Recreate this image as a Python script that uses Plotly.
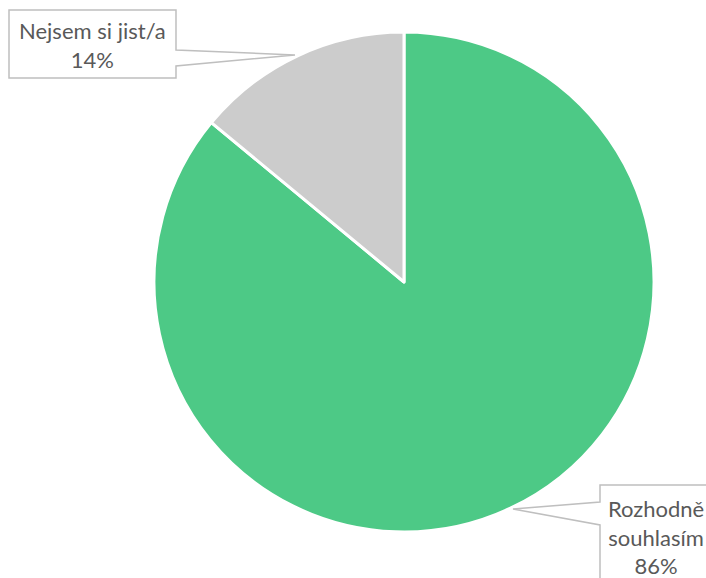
import plotly.graph_objects as go

# Survey answers and their shares (percent)
labels = ["Rozhodně souhlasím", "Nejsem si jist/a"]
label_lines = [["Rozhodně", "souhlasím"], ["Nejsem si jist/a"]]
values = [86, 14]
colors = ["#4DC986", "#CCCCCC"]

W, H = 706, 578


def px(x, y):
    """Convert pixel position to paper coordinates."""
    return x / W, 1 - y / H


def path_from(points):
    parts = []
    for i, (x, y) in enumerate(points):
        xp, yp = px(x, y)
        parts.append(("M" if i == 0 else "L") + f"{xp:.5f},{yp:.5f}")
    return " ".join(parts) + " Z"


fig = go.Figure(
    go.Pie(
        labels=labels,
        values=values,
        sort=False,
        direction="clockwise",
        rotation=0,
        marker=dict(colors=colors, line=dict(color="white", width=3)),
        textinfo="none",
        hoverinfo="label+percent",
        showlegend=False,
        domain=dict(x=[154 / W, 654 / W], y=[1 - 532 / H, 1 - 32 / H]),
    )
)

# Callout boxes with pointers toward their slices
callouts = [
    [(600, 485), (730, 485), (730, 600), (600, 600), (600, 525), (513, 509), (600, 502)],
    [(9, 10), (176, 10), (176, 50), (295, 55), (176, 66), (176, 78), (9, 78)],
]
for pts in callouts:
    fig.add_shape(
        type="path",
        xref="paper",
        yref="paper",
        path=path_from(pts),
        fillcolor="white",
        line=dict(color="#BFBFBF", width=1.5),
        layer="above",
    )

total = sum(values)
text_centers = [(656, 537), (92, 45)]
for lines, v, (cx, cy) in zip(label_lines, values, text_centers):
    txt = "<br>".join(lines + [f"{round(100 * v / total)}%"])
    xp, yp = px(cx, cy)
    fig.add_annotation(
        x=xp,
        y=yp,
        xref="paper",
        yref="paper",
        text=txt,
        showarrow=False,
        align="center",
        xanchor="center",
        yanchor="middle",
        font=dict(family="Lato, Liberation Sans, sans-serif", size=22, color="#595959"),
    )

fig.update_layout(
    width=W,
    height=H,
    margin=dict(l=0, r=0, t=0, b=0),
    paper_bgcolor="white",
    plot_bgcolor="white",
)

fig.write_html("out.html")
